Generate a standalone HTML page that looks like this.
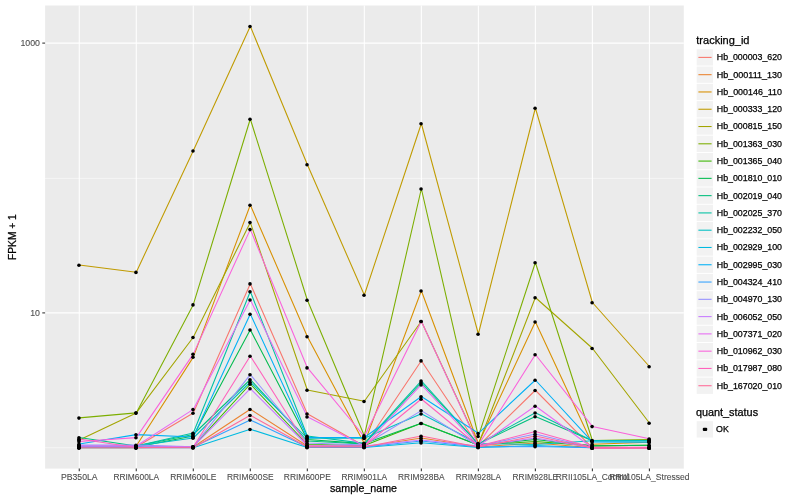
<!DOCTYPE html>
<html lang="en"><head><meta charset="utf-8"><title>FPKM + 1 by sample_name</title>
<style>html,body{margin:0;padding:0;background:#fff}body{width:800px;height:500px;overflow:hidden}svg{display:block;will-change:transform}.ax text{stroke-width:0.1px}text{stroke-width:0.25px;font-family:"Liberation Sans",Arial,Helvetica,sans-serif}</style></head><body>
<svg width="800" height="500" viewBox="0 0 800 500">
<rect width="800" height="500" fill="#fff"/>
<rect x="45.1" y="5.5" width="638.6999999999999" height="463.1" fill="#EBEBEB"/>
<g stroke="#FFFFFF" stroke-width="0.53">
<line x1="45.1" x2="683.8" y1="178.4" y2="178.4"/>
<line x1="45.1" x2="683.8" y1="447.7" y2="447.7"/>
</g>
<g stroke="#FFFFFF" stroke-width="1.07">
<line x1="45.1" x2="683.8" y1="43.1" y2="43.1"/>
<line x1="45.1" x2="683.8" y1="312.9" y2="312.9"/>
<line x1="79.25" x2="79.25" y1="5.5" y2="468.6"/>
<line x1="136.26" x2="136.26" y1="5.5" y2="468.6"/>
<line x1="193.28" x2="193.28" y1="5.5" y2="468.6"/>
<line x1="250.30" x2="250.30" y1="5.5" y2="468.6"/>
<line x1="307.31" x2="307.31" y1="5.5" y2="468.6"/>
<line x1="364.32" x2="364.32" y1="5.5" y2="468.6"/>
<line x1="421.34" x2="421.34" y1="5.5" y2="468.6"/>
<line x1="478.36" x2="478.36" y1="5.5" y2="468.6"/>
<line x1="535.37" x2="535.37" y1="5.5" y2="468.6"/>
<line x1="592.38" x2="592.38" y1="5.5" y2="468.6"/>
<line x1="649.40" x2="649.40" y1="5.5" y2="468.6"/>
</g>
<g fill="none" stroke-width="1.07" stroke-linejoin="round" stroke-linecap="butt">
<polyline stroke="#F8766D" points="79.25,447.00 136.26,447.00 193.28,413.00 250.30,283.70 307.31,413.75 364.32,446.00 421.34,360.70 478.36,446.00 535.37,390.25 592.38,447.80 649.40,447.80"/>
<polyline stroke="#EA8331" points="79.25,447.80 136.26,447.80 193.28,447.00 250.30,409.25 307.31,446.00 364.32,447.00 421.34,438.00 478.36,447.00 535.37,443.00 592.38,447.80 649.40,447.80"/>
<polyline stroke="#D89000" points="79.25,447.00 136.26,446.00 193.28,357.10 250.30,205.00 307.31,336.50 364.32,443.40 421.34,290.75 478.36,443.50 535.37,321.75 592.38,444.20 649.40,442.30"/>
<polyline stroke="#C09B00" points="79.25,265.00 136.26,272.20 193.28,150.75 250.30,26.25 307.31,164.50 364.32,295.00 421.34,123.50 478.36,334.00 535.37,108.00 592.38,302.50 649.40,366.50"/>
<polyline stroke="#A3A500" points="79.25,440.00 136.26,412.90 193.28,337.25 250.30,222.40 307.31,390.00 364.32,401.30 421.34,321.25 478.36,444.20 535.37,297.50 592.38,348.25 649.40,423.00"/>
<polyline stroke="#7CAE00" points="79.25,417.90 136.26,412.90 193.28,304.70 250.30,119.00 307.31,300.00 364.32,435.70 421.34,188.75 478.36,436.30 535.37,262.50 592.38,440.50 649.40,439.50"/>
<polyline stroke="#39B600" points="79.25,447.00 136.26,447.00 193.28,446.70 250.30,384.00 307.31,444.50 364.32,445.50 421.34,423.25 478.36,445.00 535.37,441.50 592.38,445.90 649.40,445.30"/>
<polyline stroke="#00BB4E" points="79.25,447.00 136.26,447.00 193.28,436.00 250.30,329.75 307.31,439.50 364.32,443.60 421.34,423.25 478.36,445.00 535.37,439.50 592.38,445.90 649.40,445.30"/>
<polyline stroke="#00BF7D" points="79.25,437.50 136.26,446.00 193.28,434.50 250.30,379.50 307.31,441.00 364.32,444.00 421.34,382.75 478.36,444.00 535.37,416.50 592.38,440.80 649.40,440.80"/>
<polyline stroke="#00C1A3" points="79.25,447.00 136.26,446.00 193.28,433.00 250.30,291.50 307.31,436.00 364.32,443.40 421.34,380.80 478.36,444.00 535.37,412.75 592.38,440.80 649.40,440.80"/>
<polyline stroke="#00BFC4" points="79.25,446.00 136.26,446.00 193.28,438.00 250.30,382.00 307.31,438.30 364.32,438.20 421.34,413.80 478.36,443.50 535.37,444.50 592.38,440.80 649.40,440.80"/>
<polyline stroke="#00BAE0" points="79.25,447.80 136.26,447.80 193.28,447.80 250.30,429.25 307.31,447.50 364.32,447.50 421.34,442.75 478.36,447.50 535.37,445.50 592.38,447.80 649.40,447.80"/>
<polyline stroke="#00B0F6" points="79.25,444.00 136.26,434.60 193.28,437.00 250.30,314.00 307.31,437.50 364.32,437.50 421.34,396.50 478.36,433.30 535.37,380.00 592.38,441.90 649.40,442.30"/>
<polyline stroke="#35A2FF" points="79.25,447.00 136.26,447.00 193.28,447.00 250.30,419.90 307.31,447.00 364.32,447.00 421.34,441.00 478.36,447.00 535.37,446.50 592.38,447.80 649.40,447.80"/>
<polyline stroke="#9590FF" points="79.25,445.00 136.26,445.00 193.28,446.70 250.30,374.60 307.31,443.00 364.32,445.00 421.34,410.60 478.36,446.00 535.37,434.00 592.38,447.80 649.40,447.80"/>
<polyline stroke="#C77CFF" points="79.25,446.00 136.26,446.00 193.28,446.70 250.30,388.60 307.31,445.50 364.32,446.00 421.34,440.00 478.36,446.00 535.37,438.00 592.38,447.80 649.40,447.80"/>
<polyline stroke="#E76BF3" points="79.25,446.00 136.26,446.00 193.28,409.40 250.30,299.75 307.31,416.75 364.32,446.00 421.34,384.70 478.36,446.00 535.37,406.00 592.38,447.80 649.40,447.80"/>
<polyline stroke="#FA62DB" points="79.25,441.50 136.26,437.60 193.28,354.10 250.30,229.40 307.31,367.70 364.32,436.50 421.34,321.25 478.36,445.00 535.37,354.50 592.38,426.40 649.40,438.80"/>
<polyline stroke="#FF62BC" points="79.25,439.00 136.26,447.50 193.28,447.00 250.30,356.00 307.31,446.00 364.32,446.00 421.34,399.00 478.36,446.00 535.37,431.50 592.38,447.40 649.40,447.40"/>
<polyline stroke="#FF6A98" points="79.25,447.80 136.26,447.80 193.28,447.80 250.30,415.30 307.31,447.00 364.32,447.00 421.34,436.00 478.36,447.00 535.37,436.00 592.38,448.10 649.40,448.10"/>
</g>
<g fill="#000">
<circle cx="78.95" cy="447.20" r="1.8"/>
<circle cx="135.96" cy="447.20" r="1.8"/>
<circle cx="192.98" cy="413.20" r="1.8"/>
<circle cx="250.00" cy="283.90" r="1.8"/>
<circle cx="307.01" cy="413.95" r="1.8"/>
<circle cx="364.02" cy="446.20" r="1.8"/>
<circle cx="421.04" cy="360.90" r="1.8"/>
<circle cx="478.06" cy="446.20" r="1.8"/>
<circle cx="535.07" cy="390.45" r="1.8"/>
<circle cx="592.09" cy="448.00" r="1.8"/>
<circle cx="649.10" cy="448.00" r="1.8"/>
<circle cx="78.95" cy="448.00" r="1.8"/>
<circle cx="135.96" cy="448.00" r="1.8"/>
<circle cx="192.98" cy="447.20" r="1.8"/>
<circle cx="250.00" cy="409.45" r="1.8"/>
<circle cx="307.01" cy="446.20" r="1.8"/>
<circle cx="364.02" cy="447.20" r="1.8"/>
<circle cx="421.04" cy="438.20" r="1.8"/>
<circle cx="478.06" cy="447.20" r="1.8"/>
<circle cx="535.07" cy="443.20" r="1.8"/>
<circle cx="592.09" cy="448.00" r="1.8"/>
<circle cx="649.10" cy="448.00" r="1.8"/>
<circle cx="78.95" cy="447.20" r="1.8"/>
<circle cx="135.96" cy="446.20" r="1.8"/>
<circle cx="192.98" cy="357.30" r="1.8"/>
<circle cx="250.00" cy="205.20" r="1.8"/>
<circle cx="307.01" cy="336.70" r="1.8"/>
<circle cx="364.02" cy="443.60" r="1.8"/>
<circle cx="421.04" cy="290.95" r="1.8"/>
<circle cx="478.06" cy="443.70" r="1.8"/>
<circle cx="535.07" cy="321.95" r="1.8"/>
<circle cx="592.09" cy="444.40" r="1.8"/>
<circle cx="649.10" cy="442.50" r="1.8"/>
<circle cx="78.95" cy="265.20" r="1.8"/>
<circle cx="135.96" cy="272.40" r="1.8"/>
<circle cx="192.98" cy="150.95" r="1.8"/>
<circle cx="250.00" cy="26.45" r="1.8"/>
<circle cx="307.01" cy="164.70" r="1.8"/>
<circle cx="364.02" cy="295.20" r="1.8"/>
<circle cx="421.04" cy="123.70" r="1.8"/>
<circle cx="478.06" cy="334.20" r="1.8"/>
<circle cx="535.07" cy="108.20" r="1.8"/>
<circle cx="592.09" cy="302.70" r="1.8"/>
<circle cx="649.10" cy="366.70" r="1.8"/>
<circle cx="78.95" cy="440.20" r="1.8"/>
<circle cx="135.96" cy="413.10" r="1.8"/>
<circle cx="192.98" cy="337.45" r="1.8"/>
<circle cx="250.00" cy="222.60" r="1.8"/>
<circle cx="307.01" cy="390.20" r="1.8"/>
<circle cx="364.02" cy="401.50" r="1.8"/>
<circle cx="421.04" cy="321.45" r="1.8"/>
<circle cx="478.06" cy="444.40" r="1.8"/>
<circle cx="535.07" cy="297.70" r="1.8"/>
<circle cx="592.09" cy="348.45" r="1.8"/>
<circle cx="649.10" cy="423.20" r="1.8"/>
<circle cx="78.95" cy="418.10" r="1.8"/>
<circle cx="135.96" cy="413.10" r="1.8"/>
<circle cx="192.98" cy="304.90" r="1.8"/>
<circle cx="250.00" cy="119.20" r="1.8"/>
<circle cx="307.01" cy="300.20" r="1.8"/>
<circle cx="364.02" cy="435.90" r="1.8"/>
<circle cx="421.04" cy="188.95" r="1.8"/>
<circle cx="478.06" cy="436.50" r="1.8"/>
<circle cx="535.07" cy="262.70" r="1.8"/>
<circle cx="592.09" cy="440.70" r="1.8"/>
<circle cx="649.10" cy="439.70" r="1.8"/>
<circle cx="78.95" cy="447.20" r="1.8"/>
<circle cx="135.96" cy="447.20" r="1.8"/>
<circle cx="192.98" cy="446.90" r="1.8"/>
<circle cx="250.00" cy="384.20" r="1.8"/>
<circle cx="307.01" cy="444.70" r="1.8"/>
<circle cx="364.02" cy="445.70" r="1.8"/>
<circle cx="421.04" cy="423.45" r="1.8"/>
<circle cx="478.06" cy="445.20" r="1.8"/>
<circle cx="535.07" cy="441.70" r="1.8"/>
<circle cx="592.09" cy="446.10" r="1.8"/>
<circle cx="649.10" cy="445.50" r="1.8"/>
<circle cx="78.95" cy="447.20" r="1.8"/>
<circle cx="135.96" cy="447.20" r="1.8"/>
<circle cx="192.98" cy="436.20" r="1.8"/>
<circle cx="250.00" cy="329.95" r="1.8"/>
<circle cx="307.01" cy="439.70" r="1.8"/>
<circle cx="364.02" cy="443.80" r="1.8"/>
<circle cx="421.04" cy="423.45" r="1.8"/>
<circle cx="478.06" cy="445.20" r="1.8"/>
<circle cx="535.07" cy="439.70" r="1.8"/>
<circle cx="592.09" cy="446.10" r="1.8"/>
<circle cx="649.10" cy="445.50" r="1.8"/>
<circle cx="78.95" cy="437.70" r="1.8"/>
<circle cx="135.96" cy="446.20" r="1.8"/>
<circle cx="192.98" cy="434.70" r="1.8"/>
<circle cx="250.00" cy="379.70" r="1.8"/>
<circle cx="307.01" cy="441.20" r="1.8"/>
<circle cx="364.02" cy="444.20" r="1.8"/>
<circle cx="421.04" cy="382.95" r="1.8"/>
<circle cx="478.06" cy="444.20" r="1.8"/>
<circle cx="535.07" cy="416.70" r="1.8"/>
<circle cx="592.09" cy="441.00" r="1.8"/>
<circle cx="649.10" cy="441.00" r="1.8"/>
<circle cx="78.95" cy="447.20" r="1.8"/>
<circle cx="135.96" cy="446.20" r="1.8"/>
<circle cx="192.98" cy="433.20" r="1.8"/>
<circle cx="250.00" cy="291.70" r="1.8"/>
<circle cx="307.01" cy="436.20" r="1.8"/>
<circle cx="364.02" cy="443.60" r="1.8"/>
<circle cx="421.04" cy="381.00" r="1.8"/>
<circle cx="478.06" cy="444.20" r="1.8"/>
<circle cx="535.07" cy="412.95" r="1.8"/>
<circle cx="592.09" cy="441.00" r="1.8"/>
<circle cx="649.10" cy="441.00" r="1.8"/>
<circle cx="78.95" cy="446.20" r="1.8"/>
<circle cx="135.96" cy="446.20" r="1.8"/>
<circle cx="192.98" cy="438.20" r="1.8"/>
<circle cx="250.00" cy="382.20" r="1.8"/>
<circle cx="307.01" cy="438.50" r="1.8"/>
<circle cx="364.02" cy="438.40" r="1.8"/>
<circle cx="421.04" cy="414.00" r="1.8"/>
<circle cx="478.06" cy="443.70" r="1.8"/>
<circle cx="535.07" cy="444.70" r="1.8"/>
<circle cx="592.09" cy="441.00" r="1.8"/>
<circle cx="649.10" cy="441.00" r="1.8"/>
<circle cx="78.95" cy="448.00" r="1.8"/>
<circle cx="135.96" cy="448.00" r="1.8"/>
<circle cx="192.98" cy="448.00" r="1.8"/>
<circle cx="250.00" cy="429.45" r="1.8"/>
<circle cx="307.01" cy="447.70" r="1.8"/>
<circle cx="364.02" cy="447.70" r="1.8"/>
<circle cx="421.04" cy="442.95" r="1.8"/>
<circle cx="478.06" cy="447.70" r="1.8"/>
<circle cx="535.07" cy="445.70" r="1.8"/>
<circle cx="592.09" cy="448.00" r="1.8"/>
<circle cx="649.10" cy="448.00" r="1.8"/>
<circle cx="78.95" cy="444.20" r="1.8"/>
<circle cx="135.96" cy="434.80" r="1.8"/>
<circle cx="192.98" cy="437.20" r="1.8"/>
<circle cx="250.00" cy="314.20" r="1.8"/>
<circle cx="307.01" cy="437.70" r="1.8"/>
<circle cx="364.02" cy="437.70" r="1.8"/>
<circle cx="421.04" cy="396.70" r="1.8"/>
<circle cx="478.06" cy="433.50" r="1.8"/>
<circle cx="535.07" cy="380.20" r="1.8"/>
<circle cx="592.09" cy="442.10" r="1.8"/>
<circle cx="649.10" cy="442.50" r="1.8"/>
<circle cx="78.95" cy="447.20" r="1.8"/>
<circle cx="135.96" cy="447.20" r="1.8"/>
<circle cx="192.98" cy="447.20" r="1.8"/>
<circle cx="250.00" cy="420.10" r="1.8"/>
<circle cx="307.01" cy="447.20" r="1.8"/>
<circle cx="364.02" cy="447.20" r="1.8"/>
<circle cx="421.04" cy="441.20" r="1.8"/>
<circle cx="478.06" cy="447.20" r="1.8"/>
<circle cx="535.07" cy="446.70" r="1.8"/>
<circle cx="592.09" cy="448.00" r="1.8"/>
<circle cx="649.10" cy="448.00" r="1.8"/>
<circle cx="78.95" cy="445.20" r="1.8"/>
<circle cx="135.96" cy="445.20" r="1.8"/>
<circle cx="192.98" cy="446.90" r="1.8"/>
<circle cx="250.00" cy="374.80" r="1.8"/>
<circle cx="307.01" cy="443.20" r="1.8"/>
<circle cx="364.02" cy="445.20" r="1.8"/>
<circle cx="421.04" cy="410.80" r="1.8"/>
<circle cx="478.06" cy="446.20" r="1.8"/>
<circle cx="535.07" cy="434.20" r="1.8"/>
<circle cx="592.09" cy="448.00" r="1.8"/>
<circle cx="649.10" cy="448.00" r="1.8"/>
<circle cx="78.95" cy="446.20" r="1.8"/>
<circle cx="135.96" cy="446.20" r="1.8"/>
<circle cx="192.98" cy="446.90" r="1.8"/>
<circle cx="250.00" cy="388.80" r="1.8"/>
<circle cx="307.01" cy="445.70" r="1.8"/>
<circle cx="364.02" cy="446.20" r="1.8"/>
<circle cx="421.04" cy="440.20" r="1.8"/>
<circle cx="478.06" cy="446.20" r="1.8"/>
<circle cx="535.07" cy="438.20" r="1.8"/>
<circle cx="592.09" cy="448.00" r="1.8"/>
<circle cx="649.10" cy="448.00" r="1.8"/>
<circle cx="78.95" cy="446.20" r="1.8"/>
<circle cx="135.96" cy="446.20" r="1.8"/>
<circle cx="192.98" cy="409.60" r="1.8"/>
<circle cx="250.00" cy="299.95" r="1.8"/>
<circle cx="307.01" cy="416.95" r="1.8"/>
<circle cx="364.02" cy="446.20" r="1.8"/>
<circle cx="421.04" cy="384.90" r="1.8"/>
<circle cx="478.06" cy="446.20" r="1.8"/>
<circle cx="535.07" cy="406.20" r="1.8"/>
<circle cx="592.09" cy="448.00" r="1.8"/>
<circle cx="649.10" cy="448.00" r="1.8"/>
<circle cx="78.95" cy="441.70" r="1.8"/>
<circle cx="135.96" cy="437.80" r="1.8"/>
<circle cx="192.98" cy="354.30" r="1.8"/>
<circle cx="250.00" cy="229.60" r="1.8"/>
<circle cx="307.01" cy="367.90" r="1.8"/>
<circle cx="364.02" cy="436.70" r="1.8"/>
<circle cx="421.04" cy="321.45" r="1.8"/>
<circle cx="478.06" cy="445.20" r="1.8"/>
<circle cx="535.07" cy="354.70" r="1.8"/>
<circle cx="592.09" cy="426.60" r="1.8"/>
<circle cx="649.10" cy="439.00" r="1.8"/>
<circle cx="78.95" cy="439.20" r="1.8"/>
<circle cx="135.96" cy="447.70" r="1.8"/>
<circle cx="192.98" cy="447.20" r="1.8"/>
<circle cx="250.00" cy="356.20" r="1.8"/>
<circle cx="307.01" cy="446.20" r="1.8"/>
<circle cx="364.02" cy="446.20" r="1.8"/>
<circle cx="421.04" cy="399.20" r="1.8"/>
<circle cx="478.06" cy="446.20" r="1.8"/>
<circle cx="535.07" cy="431.70" r="1.8"/>
<circle cx="592.09" cy="447.60" r="1.8"/>
<circle cx="649.10" cy="447.60" r="1.8"/>
<circle cx="78.95" cy="448.00" r="1.8"/>
<circle cx="135.96" cy="448.00" r="1.8"/>
<circle cx="192.98" cy="448.00" r="1.8"/>
<circle cx="250.00" cy="415.50" r="1.8"/>
<circle cx="307.01" cy="447.20" r="1.8"/>
<circle cx="364.02" cy="447.20" r="1.8"/>
<circle cx="421.04" cy="436.20" r="1.8"/>
<circle cx="478.06" cy="447.20" r="1.8"/>
<circle cx="535.07" cy="436.20" r="1.8"/>
<circle cx="592.09" cy="448.30" r="1.8"/>
<circle cx="649.10" cy="448.30" r="1.8"/>
</g>
<g stroke="#333333" stroke-width="1.07">
<line x1="42.3" x2="45.1" y1="43.1" y2="43.1"/>
<line x1="42.3" x2="45.1" y1="312.9" y2="312.9"/>
<line x1="79.25" x2="79.25" y1="468.6" y2="471.35"/>
<line x1="136.26" x2="136.26" y1="468.6" y2="471.35"/>
<line x1="193.28" x2="193.28" y1="468.6" y2="471.35"/>
<line x1="250.30" x2="250.30" y1="468.6" y2="471.35"/>
<line x1="307.31" x2="307.31" y1="468.6" y2="471.35"/>
<line x1="364.32" x2="364.32" y1="468.6" y2="471.35"/>
<line x1="421.34" x2="421.34" y1="468.6" y2="471.35"/>
<line x1="478.36" x2="478.36" y1="468.6" y2="471.35"/>
<line x1="535.37" x2="535.37" y1="468.6" y2="471.35"/>
<line x1="592.38" x2="592.38" y1="468.6" y2="471.35"/>
<line x1="649.40" x2="649.40" y1="468.6" y2="471.35"/>
</g>
<g class="ax" fill="#4D4D4D" stroke="#4D4D4D" font-size="8.8px">
<text x="40" y="46.25" text-anchor="end">1000</text>
<text x="40" y="316.04999999999995" text-anchor="end">10</text>
<text x="60.88" y="479.8" textLength="36.75" lengthAdjust="spacingAndGlyphs">PB350LA</text>
<text x="113.39" y="479.8" textLength="45.75" lengthAdjust="spacingAndGlyphs">RRIM600LA</text>
<text x="170.28" y="479.8" textLength="46" lengthAdjust="spacingAndGlyphs">RRIM600LE</text>
<text x="226.90" y="479.8" textLength="46.8" lengthAdjust="spacingAndGlyphs">RRIM600SE</text>
<text x="283.81" y="479.8" textLength="47" lengthAdjust="spacingAndGlyphs">RRIM600PE</text>
<text x="341.45" y="479.8" textLength="45.75" lengthAdjust="spacingAndGlyphs">RRIM901LA</text>
<text x="398.09" y="479.8" textLength="46.5" lengthAdjust="spacingAndGlyphs">RRIM928BA</text>
<text x="455.71" y="479.8" textLength="45.3" lengthAdjust="spacingAndGlyphs">RRIM928LA</text>
<text x="512.57" y="479.8" textLength="45.6" lengthAdjust="spacingAndGlyphs">RRIM928LE</text>
<text x="555.78" y="479.8" textLength="73.2" lengthAdjust="spacingAndGlyphs">RRII105LA_Control</text>
<text x="609.25" y="479.8" textLength="80.3" lengthAdjust="spacingAndGlyphs">RRII105LA_Stressed</text>
</g>
<g fill="#000" stroke="#000" font-size="11px">
<text x="330" y="491.9" textLength="67" lengthAdjust="spacingAndGlyphs">sample_name</text>
<text transform="translate(16.2,260) rotate(-90)" textLength="45.75" lengthAdjust="spacingAndGlyphs">FPKM + 1</text>
</g>
<g font-size="11px" fill="#000" stroke="#000"><text x="696.3" y="44">tracking_id</text><text x="695.9" y="415.5" textLength="62.2" lengthAdjust="spacingAndGlyphs">quant_status</text></g>
<rect x="696.7" y="49.26" width="16.3" height="16.3" fill="#F2F2F2"/>
<line x1="698.4" x2="711.6" y1="57.40" y2="57.40" stroke="#F8766D" stroke-width="1.07"/>
<text x="716.8" y="60" font-size="8.8px" fill="#000" stroke="#000" textLength="65.2" lengthAdjust="spacingAndGlyphs">Hb_000003_620</text>
<rect x="696.7" y="66.54" width="16.3" height="16.3" fill="#F2F2F2"/>
<line x1="698.4" x2="711.6" y1="74.68" y2="74.68" stroke="#EA8331" stroke-width="1.07"/>
<text x="716.8" y="78" font-size="8.8px" fill="#000" stroke="#000" textLength="65.2" lengthAdjust="spacingAndGlyphs">Hb_000111_130</text>
<rect x="696.7" y="83.82" width="16.3" height="16.3" fill="#F2F2F2"/>
<line x1="698.4" x2="711.6" y1="91.96" y2="91.96" stroke="#D89000" stroke-width="1.07"/>
<text x="716.8" y="95" font-size="8.8px" fill="#000" stroke="#000" textLength="65.2" lengthAdjust="spacingAndGlyphs">Hb_000146_110</text>
<rect x="696.7" y="101.10" width="16.3" height="16.3" fill="#F2F2F2"/>
<line x1="698.4" x2="711.6" y1="109.24" y2="109.24" stroke="#C09B00" stroke-width="1.07"/>
<text x="716.8" y="112" font-size="8.8px" fill="#000" stroke="#000" textLength="65.2" lengthAdjust="spacingAndGlyphs">Hb_000333_120</text>
<rect x="696.7" y="118.38" width="16.3" height="16.3" fill="#F2F2F2"/>
<line x1="698.4" x2="711.6" y1="126.52" y2="126.52" stroke="#A3A500" stroke-width="1.07"/>
<text x="716.8" y="129" font-size="8.8px" fill="#000" stroke="#000" textLength="65.2" lengthAdjust="spacingAndGlyphs">Hb_000815_150</text>
<rect x="696.7" y="135.66" width="16.3" height="16.3" fill="#F2F2F2"/>
<line x1="698.4" x2="711.6" y1="143.80" y2="143.80" stroke="#7CAE00" stroke-width="1.07"/>
<text x="716.8" y="147" font-size="8.8px" fill="#000" stroke="#000" textLength="65.2" lengthAdjust="spacingAndGlyphs">Hb_001363_030</text>
<rect x="696.7" y="152.94" width="16.3" height="16.3" fill="#F2F2F2"/>
<line x1="698.4" x2="711.6" y1="161.08" y2="161.08" stroke="#39B600" stroke-width="1.07"/>
<text x="716.8" y="164" font-size="8.8px" fill="#000" stroke="#000" textLength="65.2" lengthAdjust="spacingAndGlyphs">Hb_001365_040</text>
<rect x="696.7" y="170.22" width="16.3" height="16.3" fill="#F2F2F2"/>
<line x1="698.4" x2="711.6" y1="178.36" y2="178.36" stroke="#00BB4E" stroke-width="1.07"/>
<text x="716.8" y="181" font-size="8.8px" fill="#000" stroke="#000" textLength="65.2" lengthAdjust="spacingAndGlyphs">Hb_001810_010</text>
<rect x="696.7" y="187.50" width="16.3" height="16.3" fill="#F2F2F2"/>
<line x1="698.4" x2="711.6" y1="195.64" y2="195.64" stroke="#00BF7D" stroke-width="1.07"/>
<text x="716.8" y="199" font-size="8.8px" fill="#000" stroke="#000" textLength="65.2" lengthAdjust="spacingAndGlyphs">Hb_002019_040</text>
<rect x="696.7" y="204.78" width="16.3" height="16.3" fill="#F2F2F2"/>
<line x1="698.4" x2="711.6" y1="212.92" y2="212.92" stroke="#00C1A3" stroke-width="1.07"/>
<text x="716.8" y="216" font-size="8.8px" fill="#000" stroke="#000" textLength="65.2" lengthAdjust="spacingAndGlyphs">Hb_002025_370</text>
<rect x="696.7" y="222.06" width="16.3" height="16.3" fill="#F2F2F2"/>
<line x1="698.4" x2="711.6" y1="230.20" y2="230.20" stroke="#00BFC4" stroke-width="1.07"/>
<text x="716.8" y="233" font-size="8.8px" fill="#000" stroke="#000" textLength="65.2" lengthAdjust="spacingAndGlyphs">Hb_002232_050</text>
<rect x="696.7" y="239.34" width="16.3" height="16.3" fill="#F2F2F2"/>
<line x1="698.4" x2="711.6" y1="247.48" y2="247.48" stroke="#00BAE0" stroke-width="1.07"/>
<text x="716.8" y="250" font-size="8.8px" fill="#000" stroke="#000" textLength="65.2" lengthAdjust="spacingAndGlyphs">Hb_002929_100</text>
<rect x="696.7" y="256.62" width="16.3" height="16.3" fill="#F2F2F2"/>
<line x1="698.4" x2="711.6" y1="264.76" y2="264.76" stroke="#00B0F6" stroke-width="1.07"/>
<text x="716.8" y="268" font-size="8.8px" fill="#000" stroke="#000" textLength="65.2" lengthAdjust="spacingAndGlyphs">Hb_002995_030</text>
<rect x="696.7" y="273.90" width="16.3" height="16.3" fill="#F2F2F2"/>
<line x1="698.4" x2="711.6" y1="282.04" y2="282.04" stroke="#35A2FF" stroke-width="1.07"/>
<text x="716.8" y="285" font-size="8.8px" fill="#000" stroke="#000" textLength="65.2" lengthAdjust="spacingAndGlyphs">Hb_004324_410</text>
<rect x="696.7" y="291.18" width="16.3" height="16.3" fill="#F2F2F2"/>
<line x1="698.4" x2="711.6" y1="299.32" y2="299.32" stroke="#9590FF" stroke-width="1.07"/>
<text x="716.8" y="302" font-size="8.8px" fill="#000" stroke="#000" textLength="65.2" lengthAdjust="spacingAndGlyphs">Hb_004970_130</text>
<rect x="696.7" y="308.46" width="16.3" height="16.3" fill="#F2F2F2"/>
<line x1="698.4" x2="711.6" y1="316.60" y2="316.60" stroke="#C77CFF" stroke-width="1.07"/>
<text x="716.8" y="320" font-size="8.8px" fill="#000" stroke="#000" textLength="65.2" lengthAdjust="spacingAndGlyphs">Hb_006052_050</text>
<rect x="696.7" y="325.74" width="16.3" height="16.3" fill="#F2F2F2"/>
<line x1="698.4" x2="711.6" y1="333.88" y2="333.88" stroke="#E76BF3" stroke-width="1.07"/>
<text x="716.8" y="337" font-size="8.8px" fill="#000" stroke="#000" textLength="65.2" lengthAdjust="spacingAndGlyphs">Hb_007371_020</text>
<rect x="696.7" y="343.02" width="16.3" height="16.3" fill="#F2F2F2"/>
<line x1="698.4" x2="711.6" y1="351.16" y2="351.16" stroke="#FA62DB" stroke-width="1.07"/>
<text x="716.8" y="354" font-size="8.8px" fill="#000" stroke="#000" textLength="65.2" lengthAdjust="spacingAndGlyphs">Hb_010962_030</text>
<rect x="696.7" y="360.30" width="16.3" height="16.3" fill="#F2F2F2"/>
<line x1="698.4" x2="711.6" y1="368.44" y2="368.44" stroke="#FF62BC" stroke-width="1.07"/>
<text x="716.8" y="371" font-size="8.8px" fill="#000" stroke="#000" textLength="65.2" lengthAdjust="spacingAndGlyphs">Hb_017987_080</text>
<rect x="696.7" y="377.58" width="16.3" height="16.3" fill="#F2F2F2"/>
<line x1="698.4" x2="711.6" y1="385.72" y2="385.72" stroke="#FF6A98" stroke-width="1.07"/>
<text x="716.8" y="389" font-size="8.8px" fill="#000" stroke="#000" textLength="65.2" lengthAdjust="spacingAndGlyphs">Hb_167020_010</text>
<rect x="696.7" y="421.2" width="16.3" height="16.3" fill="#F2F2F2"/>
<rect x="702.8" y="427.8" width="4.4" height="3.3" rx="1" fill="#000"/>
<text x="716.1" y="432" font-size="8.8px" fill="#000" stroke="#000">OK</text>
</svg></body></html>
